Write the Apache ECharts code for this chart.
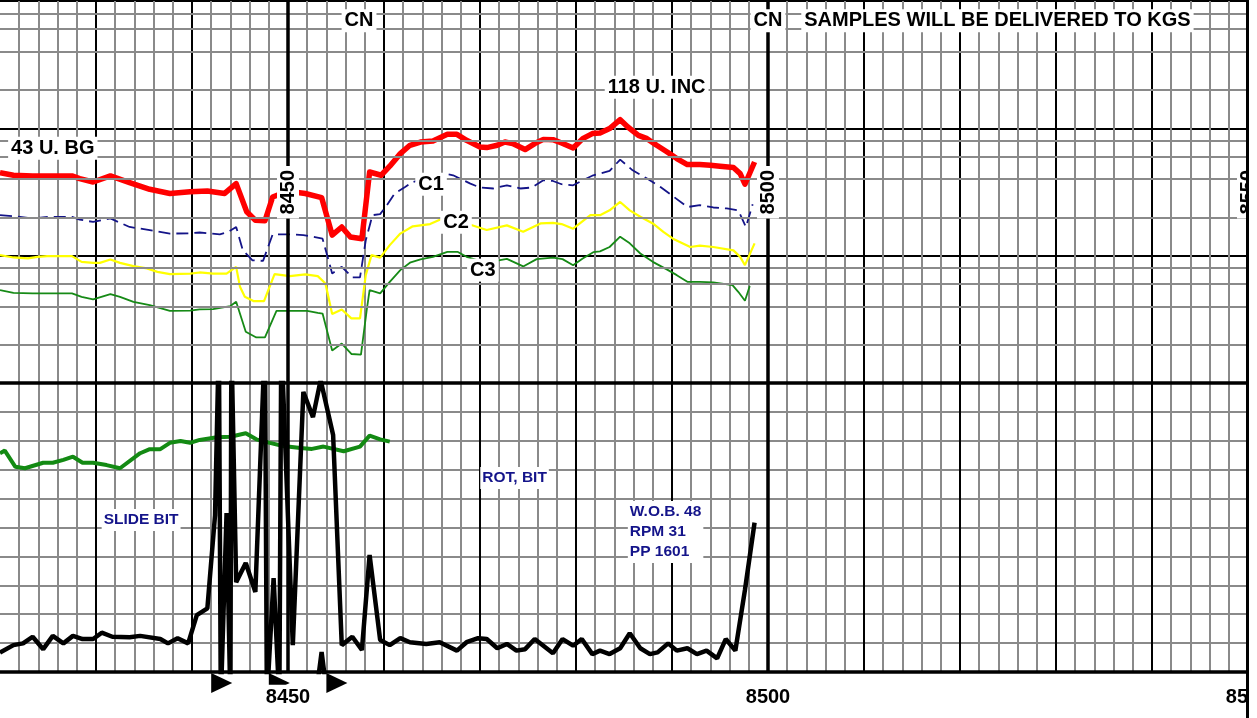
<!DOCTYPE html>
<html>
<head>
<meta charset="utf-8">
<title>Mud log 8420-8550</title>
<script src="https://cdn.jsdelivr.net/npm/echarts@6.0.0/dist/echarts.min.js"></script>
<style>
  html, body { margin: 0; padding: 0; background: #fff; }
  body { width: 1257px; height: 718px; position: relative; overflow: hidden; }
  #chart { position: absolute; left: 0; top: 0; width: 1248px; height: 718px; }
  #edge { position: absolute; left: 1246px; top: 0; width: 3px; height: 718px; background: #000; }
</style>
</head>
<body>
<div id="chart"></div>
<div id="edge"></div>
<script>
// depth track (ft)
const depthMin = 8420
const depthMax = 8550
const depthTicks = [8450, 8500, 8550]

// gas track, log grid lines inside each decade (units)
const gasMinorLines = [2, 4, 6, 8, 20, 40, 60, 80, 200, 400, 600, 800]

// [depth, units]
const totalGas = [
  [8420.0, 44.9], [8421.4, 42.8], [8423.4, 42.3], [8427.5, 42.3], [8428.3, 40.3], [8429.7, 37.9],
  [8431.5, 42.3], [8433.5, 37.5], [8435.6, 33.2], [8437.7, 30.8], [8439.8, 31.7], [8441.6, 32.2],
  [8443.4, 30.8], [8444.6, 36.8], [8445.7, 22.1], [8446.6, 19.0], [8447.6, 18.8], [8448.4, 28.9],
  [8450.0, 32.1], [8451.8, 30.8], [8453.5, 28.6], [8454.6, 14.5], [8455.6, 16.8], [8456.5, 14.0],
  [8457.7, 13.6], [8458.5, 45.4], [8459.7, 42.8], [8460.6, 50.4], [8461.7, 63.3], [8462.7, 73.6],
  [8463.8, 78.1], [8465.1, 79.5], [8466.6, 89.7], [8467.6, 89.7], [8468.6, 80.5], [8470.0, 71.4],
  [8470.7, 70.6], [8471.8, 73.6], [8472.6, 78.1], [8473.4, 75.9], [8474.7, 68.1], [8475.7, 75.9],
  [8476.6, 81.9], [8477.6, 81.5], [8478.5, 76.7], [8479.7, 70.1], [8480.7, 83.0], [8481.7, 90.9],
  [8482.5, 91.9], [8483.5, 99.5], [8484.6, 117], [8485.4, 102.4], [8486.5, 88.1], [8487.4, 83.0],
  [8488.4, 73.6], [8489.5, 65.2], [8490.5, 57.9], [8491.6, 51.9], [8492.9, 51.9], [8494.0, 51.3],
  [8495.0, 50.4], [8496.4, 49.2], [8497.1, 44.1], [8497.6, 36.4], [8498.6, 54.4]
]

const c1 = [
  [8420.0, 20.8], [8421.4, 20.4], [8423.4, 19.6], [8425.2, 20.2], [8427.5, 20.2], [8428.3, 19.2],
  [8429.7, 18.4], [8431.5, 19.6], [8433.5, 16.8], [8435.6, 15.9], [8437.7, 14.9], [8439.8, 15.0],
  [8440.8, 15.2], [8442.9, 14.7], [8443.8, 15.4], [8444.6, 16.8], [8445.3, 11.0], [8446.3, 9.2],
  [8447.4, 9.1], [8448.4, 14.7], [8450.2, 14.7], [8451.6, 14.5], [8452.8, 14.0], [8453.6, 13.6],
  [8454.6, 7.25], [8455.6, 8.17], [8456.7, 6.75], [8457.5, 6.75], [8458.1, 13.2], [8458.8, 20.8],
  [8459.6, 21.2], [8460.3, 24.9], [8461.1, 30.7], [8462.2, 34.6], [8463.0, 37.9], [8464.0, 39.8],
  [8465.1, 41.3], [8466.6, 43.6], [8467.2, 42.8], [8467.9, 40.3], [8469.0, 36.8], [8470.0, 34.3],
  [8471.4, 33.7], [8472.8, 35.7], [8474.2, 33.7], [8475.4, 34.3], [8476.6, 39.1], [8477.6, 38.6],
  [8478.5, 36.4], [8479.7, 35.7], [8480.7, 39.1], [8481.8, 42.8], [8483.5, 46.3], [8484.6, 56.8],
  [8485.9, 46.8], [8487.4, 40.3], [8488.8, 34.6], [8490.1, 29.3], [8491.6, 24.1], [8492.9, 24.9],
  [8494.3, 23.9], [8495.7, 23.5], [8496.9, 22.7], [8497.7, 16.8], [8498.4, 25.3]
]

const c2 = [
  [8420.0, 10.1], [8421.4, 9.68], [8422.9, 9.51], [8423.9, 9.79], [8424.9, 9.91], [8427.5, 9.91],
  [8428.5, 8.94], [8429.7, 8.78], [8430.4, 8.78], [8431.5, 9.34], [8432.5, 8.78], [8433.9, 8.27],
  [8435.3, 7.94], [8436.4, 7.46], [8437.7, 7.16], [8439.8, 7.22], [8440.8, 7.38], [8442.2, 7.22],
  [8443.6, 7.22], [8444.6, 8.17], [8445.0, 5.69], [8445.5, 4.75], [8446.4, 4.40], [8447.5, 4.40],
  [8448.6, 7.16], [8450.2, 6.91], [8451.8, 7.12], [8453.1, 6.91], [8453.9, 6.05], [8454.6, 3.48],
  [8455.6, 3.78], [8456.6, 3.22], [8457.5, 3.22], [8458.1, 7.03], [8458.7, 10.1], [8459.6, 9.65],
  [8460.6, 12.1], [8461.7, 14.9], [8463.0, 17.0], [8464.8, 17.7], [8466.1, 19.6], [8467.4, 19.0],
  [8468.6, 17.9], [8470.7, 15.9], [8472.8, 17.3], [8474.5, 15.4], [8476.3, 17.9], [8477.6, 18.1],
  [8478.5, 17.7], [8479.7, 16.3], [8481.5, 20.8], [8482.5, 20.8], [8483.5, 22.7], [8484.6, 26.4],
  [8485.6, 22.7], [8486.7, 20.2], [8488.0, 17.9], [8489.1, 15.4], [8490.1, 13.6], [8491.9, 11.7],
  [8492.9, 12.0], [8494.3, 11.7], [8496.4, 11.0], [8497.1, 9.79], [8497.6, 8.42], [8498.6, 12.5]
]

const c3 = [
  [8420.0, 5.36], [8421.4, 5.11], [8423.4, 5.05], [8427.5, 5.05], [8428.5, 4.75], [8429.7, 4.53],
  [8431.5, 4.99], [8432.5, 4.75], [8433.9, 4.34], [8435.6, 4.09], [8437.7, 3.69], [8439.8, 3.70],
  [8440.8, 3.78], [8442.2, 3.81], [8444.0, 4.02], [8444.6, 4.34], [8445.6, 2.53], [8446.7, 2.28],
  [8447.6, 2.28], [8448.8, 3.69], [8452.0, 3.69], [8453.1, 3.56], [8453.6, 3.51], [8454.6, 1.80],
  [8455.6, 2.04], [8456.6, 1.69], [8457.6, 1.67], [8458.2, 3.74], [8458.5, 5.36], [8459.6, 5.05],
  [8460.6, 6.23], [8461.7, 7.70], [8462.7, 8.81], [8463.8, 9.34], [8465.1, 9.79], [8466.6, 10.7],
  [8467.7, 10.7], [8468.6, 9.79], [8470.3, 8.94], [8471.8, 9.14], [8472.8, 9.44], [8474.5, 8.23],
  [8475.9, 9.39], [8477.6, 9.65], [8478.6, 9.39], [8479.7, 8.42], [8480.7, 9.51], [8481.8, 10.65],
  [8482.5, 10.8], [8483.5, 11.7], [8484.6, 14.1], [8485.6, 12.5], [8486.7, 10.4], [8488.0, 8.94],
  [8489.5, 7.77], [8490.5, 7.03], [8491.6, 6.23], [8492.9, 6.23], [8494.3, 6.16], [8496.3, 5.87],
  [8496.9, 5.20], [8497.6, 4.42], [8498.1, 5.77]
]

// drilling track, 0-10 scale
const drillGreen = [
  [8420.0, 7.57], [8420.5, 7.66], [8421.6, 7.10], [8422.6, 7.05], [8424.5, 7.24], [8425.5, 7.24],
  [8426.6, 7.34], [8427.6, 7.45], [8428.6, 7.24], [8429.7, 7.24], [8431.1, 7.16], [8432.5, 7.05],
  [8434.6, 7.57], [8435.6, 7.71], [8436.7, 7.71], [8437.7, 7.93], [8438.8, 7.99], [8439.8, 7.93],
  [8440.8, 8.03], [8442.6, 8.12], [8444.0, 8.14], [8445.6, 8.26], [8446.7, 8.05], [8448.1, 7.93],
  [8449.5, 7.82], [8451.3, 7.75], [8452.5, 7.72], [8453.7, 7.80], [8455.8, 7.64], [8457.5, 7.80],
  [8458.5, 8.18], [8459.6, 8.05], [8460.6, 7.97]
]

// rate of penetration; it runs off the track both ways in the slide interval,
// null splits off the small excursion near the bottom edge
const rop = [
  [8420.0, 0.67], [8421.4, 0.93], [8422.4, 0.99], [8423.4, 1.22], [8424.5, 0.79], [8425.5, 1.25],
  [8426.6, 0.99], [8427.6, 1.25], [8428.6, 1.14], [8429.7, 1.14], [8430.6, 1.36], [8431.7, 1.22],
  [8433.5, 1.20], [8434.6, 1.25], [8436.7, 1.14], [8437.5, 0.99], [8438.5, 1.17], [8439.6, 0.99],
  [8440.5, 1.97], [8441.6, 2.20], [8442.4, 5.43], [8442.8, 11.5], [8443.0, -1.0], [8443.6, 5.5],
  [8444.0, -1.0], [8444.1, 11.5], [8444.6, 3.11], [8445.6, 3.77], [8446.6, 2.77], [8447.6, 11.5],
  [8447.8, -1.0], [8448.5, 3.25], [8449.1, -1.0], [8449.3, 11.5], [8450.5, 0.93], [8451.6, 9.69],
  [8452.6, 8.82], [8453.4, 10.1], [8454.7, 8.2], [8455.6, 0.93], [8456.7, 1.22], [8457.7, 0.76],
  [8458.5, 4.05], [8459.6, 1.11], [8460.6, 0.93], [8461.7, 1.17], [8462.7, 1.03], [8464.4, 0.97],
  [8465.8, 1.03], [8467.6, 0.74], [8468.6, 1.03], [8469.8, 1.17], [8470.7, 1.14], [8471.8, 0.82],
  [8472.8, 0.97], [8473.8, 0.74], [8474.7, 0.79], [8475.7, 1.14], [8477.6, 0.65], [8478.6, 1.14],
  [8479.7, 0.91], [8480.6, 1.14], [8481.7, 0.62], [8482.5, 0.74], [8483.5, 0.62], [8484.6, 0.82],
  [8485.6, 1.34], [8486.7, 0.82], [8487.7, 0.62], [8488.5, 0.68], [8489.6, 0.99], [8490.5, 0.74],
  [8491.6, 0.82], [8492.6, 0.62], [8493.6, 0.74], [8494.7, 0.47], [8495.6, 1.14], [8496.6, 0.74],
  [8497.6, 2.84], [8498.6, 5.17],
  null, [8453.0, -0.6], [8453.5, 0.69], [8454.0, -0.6]
]

// bit direction flags below the track
const arrowDepths = [8442, 8448, 8454]

// text notes: gas track (units) and drilling track (0-10)
const gasNotes = [
  { depth: 8425.5, value: 69.7, text: '43 U. BG' },
  { depth: 8488.4, value: 210, text: '118 U. INC' },
  { depth: 8464.9, value: 36.4, text: 'C1' },
  { depth: 8467.5, value: 18.3, text: 'C2' },
  { depth: 8470.3, value: 7.7, text: 'C3' },
  { depth: 8457.4, value: 700, text: 'CN' },
  { depth: 8500.0, value: 700, text: 'CN' },
  { depth: 8523.9, value: 700, text: 'SAMPLES WILL BE DELIVERED TO KGS' }
]
const drillNotes = [
  { depth: 8434.7, value: 5.26, text: 'SLIDE BIT', align: 'center' },
  { depth: 8473.6, value: 6.71, text: 'ROT, BIT', align: 'center' },
  { depth: 8485.4, value: 4.84, text: 'W.O.B. 48\nRPM 31\nPP 1601', align: 'left' }
]

const FONT = "'Liberation Sans', Arial, sans-serif"
const GRAY = '#8a8a8a'

const chart = echarts.init(document.getElementById('chart'), null, { renderer: 'canvas' })

const depthAxis = (gridIndex, lineWidth) => ({
  gridIndex,
  type: 'value',
  min: depthMin,
  max: depthMax,
  interval: 10,
  axisLine: { show: true, onZero: false, lineStyle: { color: '#000', width: lineWidth } },
  axisTick: { show: false },
  axisLabel: { show: false },
  splitLine: { show: true, showMinLine: false, lineStyle: { color: '#000', width: 2 } },
  minorTick: { show: false, splitNumber: 5 },
  minorSplitLine: { show: true, lineStyle: { color: GRAY, width: 2 } }
})

const thickVerticals = depthTicks.map(d => ({ xAxis: d }))

const textSeries = (xi, yi, data, label, z) => ({
  type: 'scatter',
  xAxisIndex: xi,
  yAxisIndex: yi,
  clip: false,
  silent: true,
  z,
  symbolSize: 1,
  itemStyle: { color: '#fff', opacity: 1 },
  label: Object.assign({
    show: true, position: 'inside', formatter: p => p.data.text,
    textBorderWidth: 0, textShadowBlur: 0
  }, label),
  data
})

const blackText = { color: '#000', fontFamily: FONT, fontSize: 20, fontWeight: 'bold', backgroundColor: '#fff', padding: [2, 3, 1, 3] }

const option = {
  animation: false,
  backgroundColor: '#fff',
  grid: [
    { left: 0, right: 0, top: 1, height: 382 },
    { left: 0, right: 0, top: 383, height: 289 }
  ],
  xAxis: [depthAxis(0, 3.5), depthAxis(1, 3.5)],
  yAxis: [
    {
      gridIndex: 0, type: 'log', logBase: 10, min: 1, max: 1000,
      axisLine: { show: false }, axisTick: { show: false }, axisLabel: { show: false },
      splitLine: { show: true, lineStyle: { color: '#000', width: 2 } }
    },
    {
      gridIndex: 1, type: 'value', min: 0, max: 10, interval: 1,
      axisLine: { show: false }, axisTick: { show: false }, axisLabel: { show: false },
      splitLine: { show: true, lineStyle: { color: GRAY, width: 2 } }
    }
  ],
  series: [
    {
      // log paper minor lines
      type: 'line', xAxisIndex: 0, yAxisIndex: 0, data: [], z: 1, silent: true,
      markLine: {
        silent: true, symbol: 'none', label: { show: false }, animation: false,
        lineStyle: { color: GRAY, width: 2, type: 'solid' },
        data: gasMinorLines.map(v => ({ yAxis: v }))
      }
    },
    {
      // 50 ft lines through both tracks
      type: 'line', xAxisIndex: 0, yAxisIndex: 0, data: [], z: 1, silent: true,
      markLine: {
        silent: true, symbol: 'none', label: { show: false }, animation: false,
        lineStyle: { color: '#000', width: 3.5, type: 'solid' },
        data: thickVerticals
      }
    },
    {
      type: 'line', xAxisIndex: 1, yAxisIndex: 1, data: [], z: 1, silent: true,
      markLine: {
        silent: true, symbol: 'none', label: { show: false }, animation: false,
        lineStyle: { color: '#000', width: 3.5, type: 'solid' },
        data: thickVerticals
      }
    },
    {
      name: 'C3', type: 'line', xAxisIndex: 0, yAxisIndex: 0, data: c3, z: 3,
      symbol: 'none', lineStyle: { color: '#168a16', width: 1.8 }
    },
    {
      name: 'C2', type: 'line', xAxisIndex: 0, yAxisIndex: 0, data: c2, z: 3,
      symbol: 'none', lineStyle: { color: '#ffff00', width: 2.2 }
    },
    {
      name: 'C1', type: 'line', xAxisIndex: 0, yAxisIndex: 0, data: c1, z: 3,
      symbol: 'none', lineStyle: { color: '#141488', width: 1.8, type: [12, 6] }
    },
    {
      name: 'Total gas', type: 'line', xAxisIndex: 0, yAxisIndex: 0, data: totalGas, z: 4,
      symbol: 'none', lineStyle: { color: '#ff0000', width: 5.5, join: 'round' }
    },
    {
      name: 'Green', type: 'line', xAxisIndex: 1, yAxisIndex: 1, data: drillGreen, z: 3,
      symbol: 'none', lineStyle: { color: '#138a13', width: 4 }
    },
    {
      name: 'ROP', type: 'line', xAxisIndex: 1, yAxisIndex: 1, data: rop, z: 4,
      symbol: 'none', connectNulls: false, lineStyle: { color: '#000', width: 4.5 }
    },
    {
      // flags under the depth track
      type: 'scatter', xAxisIndex: 1, yAxisIndex: 1, clip: false, silent: true, z: 5,
      symbol: 'path://M0,0L21,10L0,20Z', symbolSize: [21, 20], symbolOffset: ['50%', 0],
      itemStyle: { color: '#000', opacity: 1 },
      data: arrowDepths.map(d => [d, -0.38])
    },
    textSeries(0, 0, gasNotes.map(n => ({ value: [n.depth, n.value], text: n.text })), blackText, 10),
    textSeries(0, 0, depthTicks.map(d => ({ value: [d, 31.5], text: String(d) })),
      Object.assign({}, blackText, { rotate: 90, padding: [2, 4, 0, 4] }), 10),
    textSeries(1, 1, depthTicks.map(d => ({ value: [d, -0.87], text: String(d) })),
      Object.assign({}, blackText, { padding: [4, 2, 1, 2] }), 10),
    textSeries(1, 1, drillNotes.map(n => ({ value: [n.depth, n.value], text: n.text, label: { align: n.align } })),
      { color: '#14148a', fontFamily: FONT, fontSize: 15.5, fontWeight: 'bold', lineHeight: 20,
        backgroundColor: '#fff', padding: [1, 2] }, 10)
  ]
}

chart.setOption(option)
window.addEventListener('resize', () => chart.resize())
</script>
</body>
</html>
